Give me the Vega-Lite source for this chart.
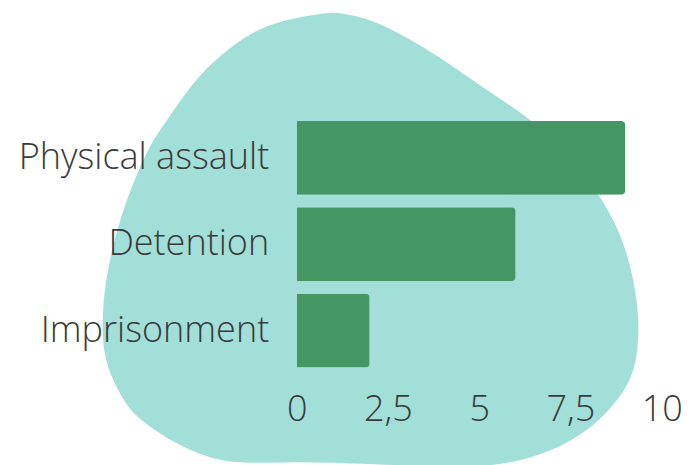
{
  "$schema": "https://vega.github.io/schema/vega-lite/v6.json",
  "width": 365,
  "height": 259,
  "autosize": {"type": "none"},
  "padding": {"left": 296.7, "top": 114.7, "right": 29.3, "bottom": 91.3},
  "background": "white",
  "config": {
    "view": {"stroke": null},
    "axis": {
      "labelFont": "Open Sans",
      "labelFontWeight": 300,
      "labelFontSize": 36,
      "labelColor": "#3a3a3a",
      "labelLimit": 0,
      "domain": false,
      "ticks": false,
      "tickSize": 0,
      "grid": false,
      "title": null
    }
  },
  "layer": [
    {
      "data": {"values": [{"shape": "blob"}]},
      "mark": {
        "type": "point",
        "shape": "M -0.385 -2.315 Q -0.30 -2.32 -0.135 -2.28 Q 0.03 -2.24 0.20 -2.155 Q 0.37 -2.07 0.535 -1.97 Q 0.70 -1.87 0.865 -1.755 Q 1.03 -1.64 1.20 -1.525 Q 1.37 -1.41 1.495 -1.325 Q 1.62 -1.24 1.785 -1.065 Q 1.95 -0.89 2.125 -0.70 Q 2.30 -0.51 2.435 -0.24 Q 2.57 0.03 2.635 0.36 Q 2.70 0.69 2.685 0.925 Q 2.67 1.16 2.635 1.26 Q 2.60 1.36 2.55 1.445 Q 2.50 1.53 2.40 1.645 Q 2.30 1.76 2.165 1.86 Q 2.03 1.96 1.865 2.035 Q 1.70 2.11 1.50 2.16 Q 1.30 2.21 1.05 2.22 Q 0.80 2.23 0.55 2.22 Q 0.30 2.21 0.05 2.20 Q -0.20 2.19 -0.365 2.185 Q -0.53 2.18 -0.70 2.18 Q -0.87 2.18 -1.035 2.185 Q -1.20 2.19 -1.365 2.175 Q -1.53 2.16 -1.70 2.095 Q -1.87 2.03 -2.035 1.93 Q -2.20 1.83 -2.315 1.73 Q -2.43 1.63 -2.53 1.43 Q -2.63 1.23 -2.655 1.06 Q -2.68 0.89 -2.665 0.64 Q -2.65 0.39 -2.575 0.06 Q -2.50 -0.27 -2.365 -0.605 Q -2.23 -0.94 -2.13 -1.09 Q -2.03 -1.24 -1.90 -1.425 Q -1.77 -1.61 -1.65 -1.735 Q -1.53 -1.86 -1.365 -1.985 Q -1.20 -2.11 -1.035 -2.175 Q -0.87 -2.24 -0.67 -2.275 Q -0.47 -2.31 -0.385 -2.315 Z",
        "size": 40000,
        "filled": true,
        "opacity": 1,
        "color": "#A2DFD8",
        "strokeWidth": 0
      },
      "encoding": {
        "x": {"datum": 2, "type": "quantitative"},
        "y": {"datum": "Detention", "type": "nominal"}
      }
    },
    {
      "data": {
        "values": [
          {"category": "Physical assault", "value": 9},
          {"category": "Detention", "value": 6},
          {"category": "Imprisonment", "value": 2}
        ]
      },
      "mark": {"type": "bar", "color": "#449664", "cornerRadiusEnd": 4},
      "encoding": {
        "y": {
          "field": "category",
          "type": "nominal",
          "sort": null,
          "scale": {
            "domain": ["Physical assault", "Detention", "Imprisonment"],
            "paddingInner": 0.145,
            "paddingOuter": 0.0725
          },
          "axis": {"labelPadding": 28, "zindex": 1}
        },
        "x": {
          "field": "value",
          "type": "quantitative",
          "scale": {"domain": [0, 10], "nice": false},
          "axis": {
            "values": [0, 2.5, 5, 7.5, 10],
            "labelExpr": "replace(format(datum.value, '.1~f'), '.', ',')",
            "labelFlush": false,
            "labelPadding": 19,
            "zindex": 1
          }
        }
      }
    }
  ]
}
